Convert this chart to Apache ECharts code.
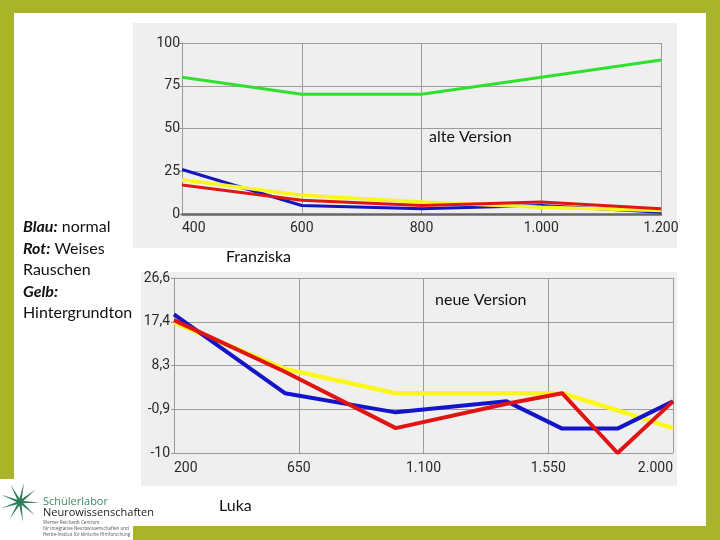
<!DOCTYPE html>
<html>
<head>
<meta charset="utf-8">
<script src="https://cdn.jsdelivr.net/npm/echarts@6/dist/echarts.min.js"></script>
<style>
html,body{margin:0;padding:0;background:#fff;}
#c{width:720px;height:540px;}
</style>
</head>
<body>
<div id="c"></div>
<script>
// ---- upper chart (alte Version) ----
const upperX = [400, 600, 800, 1000, 1200];
const upperGreen = [80, 70, 70, 80, 90];
const upperBlue = [26, 5, 3, 5, 1];
const upperRed = [17, 8, 5, 7, 3];
const upperYellow = [20, 11, 7, 4, 2];
const upperYTicks = [0, 25, 50, 75, 100];

// ---- lower chart (neue Version) ----
const lowerX = [200, 600, 1000, 1400, 1600, 1800, 2000];
const lowerBlue = [19.0, 2.5, -1.5, 0.8, -4.9, -4.9, 0.8];
const lowerRed = [17.8, 7.0, -4.8, 0.3, 2.5, -10, 0.8];
const lowerYellow = [17.3, 7.6, 2.5, 2.5, 2.5, -1.1, -4.8];
const lowerYLabels = ['-10', '-0,9', '8,3', '17,4', '26,6'];
const lowerXTicks = [200, 650, 1100, 1550, 2000];

const legendLines = [
  ['Blau:', ' normal'],
  ['Rot:', ' Weises'],
  ['', 'Rauschen'],
  ['Gelb:', ''],
  ['', 'Hintergrundton']
];

function fmtThousands(v) {
  return String(Math.round(v)).replace(/\B(?=(\d{3})+(?!\d))/g, '.');
}
function pairs(xs, ys) { return xs.map((x, i) => [x, ys[i]]); }

const lowMin = -10, lowMax = 26.6, lowInt = 9.15;

const chart = echarts.init(document.getElementById('c'), null, {renderer: 'canvas'});

const labelFont = {fontFamily: 'Roboto', fontSize: 14, color: '#2a2a2a'};
const gridLineStyle = {color: '#9c9c9c', width: 1};

const graphics = [
  // slide frame
  {type: 'rect', shape: {x: 0, y: 0, width: 720, height: 13}, style: {fill: '#a8b52a'}, z: -20},
  {type: 'rect', shape: {x: 0, y: 0, width: 14, height: 479}, style: {fill: '#a8b52a'}, z: -20},
  {type: 'rect', shape: {x: 706, y: 0, width: 14, height: 540}, style: {fill: '#a8b52a'}, z: -20},
  {type: 'rect', shape: {x: 133, y: 526, width: 587, height: 14}, style: {fill: '#a8b52a'}, z: -20},
  // panels
  {type: 'rect', shape: {x: 133, y: 23, width: 544, height: 225}, style: {fill: '#efefef'}, z: -10},
  {type: 'rect', shape: {x: 141, y: 272, width: 536, height: 214}, style: {fill: '#efefef'}, z: -10},
  // captions
  {type: 'text', x: 429, y: 137, style: {text: 'alte Version', font: '16px Lato', fill: '#111', textVerticalAlign: 'middle'}, z: 10},
  {type: 'text', x: 435, y: 300, style: {text: 'neue Version', font: '16px Lato', fill: '#111', textVerticalAlign: 'middle'}, z: 10},
  {type: 'text', x: 226, y: 257, style: {text: 'Franziska', font: '16px Lato', fill: '#111', textVerticalAlign: 'middle'}, z: 10},
  {type: 'text', x: 219, y: 506, style: {text: 'Luka', font: '16px Lato', fill: '#111', textVerticalAlign: 'middle'}, z: 10}
];

// legend-like text block on the left
legendLines.forEach((ln, i) => {
  const y = 227 + i * 21.5;
  const txt = (ln[0] ? '{b|' + ln[0] + '}' : '') + (ln[1] ? '{r|' + ln[1] + '}' : '');
  graphics.push({
    type: 'text', x: 23, y: y, z: 10,
    style: {
      text: txt,
      textVerticalAlign: 'middle',
      rich: {
        b: {fontFamily: 'Lato', fontSize: 16, fontWeight: 'bold', fontStyle: 'italic', fill: '#111'},
        r: {fontFamily: 'Lato', fontSize: 16, fill: '#111'}
      }
    }
  });
});

// logo
const star = [];
const cx = 20, cy = 502, nPts = 9;
for (let k = 0; k < nPts * 2; k++) {
  const ang = -Math.PI / 2 + 0.2 + k * Math.PI / nPts;
  const r = k % 2 === 0 ? 20 : 3.5;
  star.push([cx + r * Math.cos(ang), cy + r * Math.sin(ang)]);
}
graphics.push({type: 'polygon', shape: {points: star}, style: {fill: '#2e7d5b'}, z: 10});
graphics.push({type: 'text', x: 43, y: 502, style: {text: 'Schülerlabor', font: '11px "Open Sans"', fill: '#3d8a5e', textVerticalAlign: 'middle'}, z: 10});
graphics.push({type: 'text', x: 43, y: 513, style: {text: 'Neurowissenschaften', font: '11px "Open Sans"', fill: '#222', textVerticalAlign: 'middle'}, z: 10});
['Werner Reichardt Centrum', 'für Integrative Neurowissenschaften und', 'Hertie-Institut für klinische Hirnforschung'].forEach((t, i) => {
  graphics.push({type: 'text', x: 43, y: 523 + i * 6, style: {text: t, font: '4.5px "Open Sans"', fill: '#555', textVerticalAlign: 'middle'}, z: 10});
});

const option = {
  backgroundColor: '#ffffff',
  animation: false,
  graphic: {elements: graphics},
  grid: [
    {left: 182, top: 43, right: 59, bottom: 326, containLabel: false},
    {left: 174, top: 278, right: 47, bottom: 87, containLabel: false}
  ],
  xAxis: [
    {
      gridIndex: 0, type: 'value', min: 400, max: 1200, interval: 200,
      axisLine: {show: true, onZero: false, lineStyle: {color: '#666', width: 2.5}},
      axisTick: {show: false},
      axisLabel: Object.assign({margin: 7, formatter: fmtThousands, alignMinLabel: 'left'}, labelFont),
      splitLine: {show: true, lineStyle: gridLineStyle}
    },
    {
      gridIndex: 1, type: 'value', min: 200, max: 2000, interval: 450,
      axisLine: {show: true, onZero: false, lineStyle: {color: '#999', width: 1}},
      axisTick: {show: false},
      axisLabel: Object.assign({margin: 8, formatter: fmtThousands, alignMinLabel: 'left', alignMaxLabel: 'right'}, labelFont),
      splitLine: {show: true, lineStyle: gridLineStyle}
    }
  ],
  yAxis: [
    {
      gridIndex: 0, type: 'value', min: upperYTicks[0], max: upperYTicks[upperYTicks.length - 1], interval: 25,
      axisLine: {show: true, lineStyle: {color: '#999', width: 1}},
      axisTick: {show: true, length: 3, lineStyle: {color: '#999'}},
      axisLabel: Object.assign({margin: 2}, labelFont),
      splitLine: {show: true, lineStyle: gridLineStyle}
    },
    {
      gridIndex: 1, type: 'value', min: lowMin, max: lowMax, interval: lowInt,
      axisLine: {show: true, lineStyle: {color: '#999', width: 1}},
      axisTick: {show: true, length: 3, lineStyle: {color: '#999'}},
      axisLabel: Object.assign({
        margin: 4,
        formatter: function (v) {
          const idx = Math.round((v - lowMin) / lowInt);
          return lowerYLabels[idx] !== undefined ? lowerYLabels[idx] : '';
        }
      }, labelFont),
      splitLine: {show: true, lineStyle: gridLineStyle}
    }
  ],
  series: [
    {type: 'line', xAxisIndex: 0, yAxisIndex: 0, data: pairs(upperX, upperBlue), symbol: 'none', lineStyle: {color: '#1515c0', width: 3}, z: 3},
    {type: 'line', xAxisIndex: 0, yAxisIndex: 0, data: pairs(upperX, upperYellow), symbol: 'none', lineStyle: {color: '#f8f520', width: 3.5}, z: 4},
    {type: 'line', xAxisIndex: 0, yAxisIndex: 0, data: pairs(upperX, upperRed), symbol: 'none', lineStyle: {color: '#e01515', width: 3}, z: 5},
    {type: 'line', xAxisIndex: 0, yAxisIndex: 0, data: pairs(upperX, upperGreen), symbol: 'none', lineStyle: {color: '#2fe02f', width: 3}, z: 6},

    {type: 'line', xAxisIndex: 1, yAxisIndex: 1, data: pairs(lowerX, lowerYellow), symbol: 'none', lineStyle: {color: '#fbf71c', width: 4.5}, z: 3},
    {type: 'line', xAxisIndex: 1, yAxisIndex: 1, data: pairs(lowerX, lowerBlue), symbol: 'none', lineStyle: {color: '#1414c8', width: 4}, z: 4},
    {type: 'line', xAxisIndex: 1, yAxisIndex: 1, data: pairs(lowerX, lowerRed), symbol: 'none', lineStyle: {color: '#e01414', width: 4}, z: 5}
  ]
};
chart.setOption(option);
</script>
</body>
</html>
